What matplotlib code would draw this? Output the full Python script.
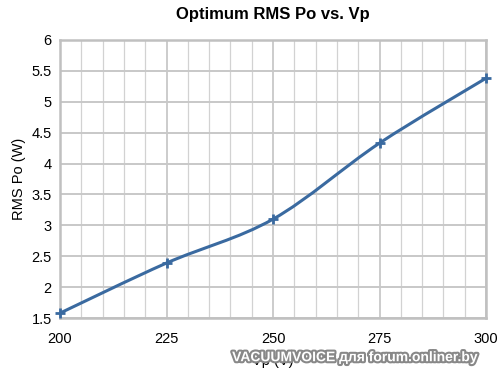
import matplotlib
matplotlib.use("Agg")
import matplotlib.pyplot as plt
import numpy as np
from matplotlib.path import Path
from matplotlib.patches import PathPatch
import matplotlib.patheffects as pe

plt.rcParams['font.family'] = ['Liberation Sans', 'DejaVu Sans']

vp = [200, 225, 250, 275, 300]
po = [1.58, 2.39, 3.10, 4.33, 5.38]
xticks = [200, 225, 250, 275, 300]
yticks = [1.5, 2, 2.5, 3, 3.5, 4, 4.5, 5, 5.5, 6]
ytick_labels = ['1.5', '2', '2.5', '3', '3.5', '4', '4.5', '5', '5.5', '6']

fig = plt.figure(figsize=(5, 3.8), dpi=100)
ax = fig.add_axes([0.12, 0.163, 0.852, 0.732])
ax.set_xlim(200, 300)
ax.set_ylim(1.5, 6)

# grid
for xv in np.arange(200, 301, 5):
    major = (xv - 200) % 25 == 0
    ax.axvline(xv, color='#c8c8c8' if major else '#d2d2d2', lw=1.3 if major else 0.9, zorder=0)
for yv in yticks:
    ax.axhline(yv, color='#c8c8c8', lw=1.4, zorder=0)

for s in ax.spines.values():
    s.set_color('#c0c0c0')
    s.set_linewidth(1.8)

# smooth curve (Catmull-Rom converted to Bezier)
x = np.array(vp, float); y = np.array(po, float)
verts = [(x[0], y[0])]
codes = [Path.MOVETO]
n = len(x)
for i in range(n - 1):
    p0 = (x[max(i - 1, 0)], y[max(i - 1, 0)])
    p1 = (x[i], y[i]); p2 = (x[i + 1], y[i + 1])
    p3 = (x[min(i + 2, n - 1)], y[min(i + 2, n - 1)])
    c1 = (p1[0] + (p2[0] - p0[0]) / 6, p1[1] + (p2[1] - p0[1]) / 6)
    c2 = (p2[0] - (p3[0] - p1[0]) / 6, p2[1] - (p3[1] - p1[1]) / 6)
    verts += [c1, c2, p2]
    codes += [Path.CURVE4] * 3
ax.add_patch(PathPatch(Path(verts, codes), fill=False, edgecolor='#3a6aa0', lw=2.2, zorder=3, clip_on=False))
ax.plot(vp, po, linestyle='none', marker='+', markersize=7, mew=2, color='#3a6aa0', zorder=4, clip_on=False)

ax.set_xticks(xticks)
ax.set_xticklabels([str(v) for v in xticks])
ax.set_yticks(yticks)
ax.set_yticklabels(ytick_labels)
ax.tick_params(length=0, labelsize=10.5, pad=6)
ax.tick_params(axis='x', pad=10)
ax.set_xlabel('Vp (V)', fontsize=10.5, labelpad=6)
ax.set_ylabel('RMS Po (W)', fontsize=10.5, labelpad=4)
ax.set_title('Optimum RMS Po vs. Vp', fontsize=12, fontweight='bold', pad=15)

fig.text(0.956, 0.06, 'VACUUMVOICE для forum.onliner.by', ha='right', va='center',
         fontsize=10, fontweight='bold', color='white',
         path_effects=[pe.withStroke(linewidth=3, foreground='#888888')])

fig.savefig('out.png', dpi=100)
